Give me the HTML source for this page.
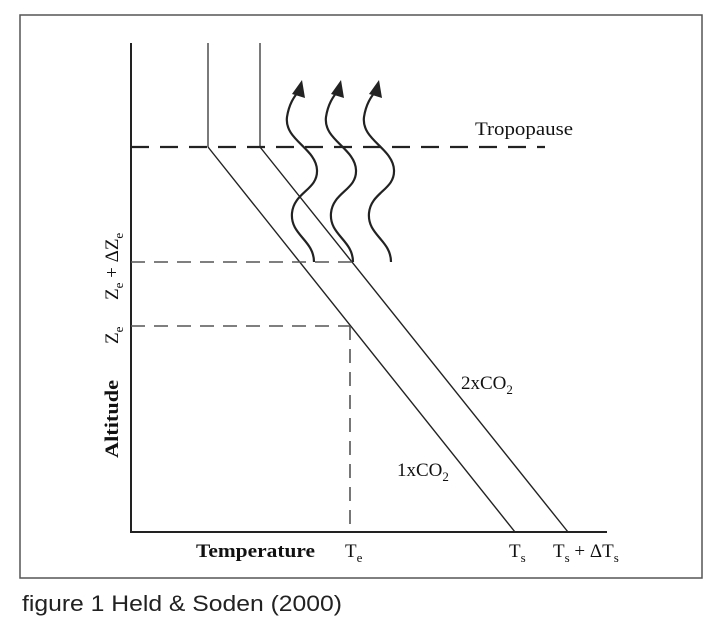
<!DOCTYPE html>
<html><head><meta charset="utf-8"><style>
html,body{margin:0;padding:0;background:#fff;width:720px;height:625px;overflow:hidden}
svg{position:absolute;left:0;top:0}
.s{font-family:"Liberation Serif",serif;fill:#111}
</style></head><body>
<svg width="720" height="625" viewBox="0 0 720 625">
<rect x="20" y="15" width="682" height="563" fill="#fff" stroke="#555" stroke-width="1.5"/>
<g stroke="#222" fill="none">
<line x1="131" y1="43" x2="131" y2="533" stroke-width="2"/>
<line x1="130" y1="532" x2="607" y2="532" stroke-width="2"/>
<line x1="208" y1="43" x2="208" y2="147" stroke-width="1.2"/>
<line x1="260" y1="43" x2="260" y2="147" stroke-width="1.2"/>
<line x1="208" y1="147" x2="515" y2="532" stroke-width="1.4"/>
<line x1="260" y1="147" x2="568" y2="532" stroke-width="1.4"/>
<line x1="131" y1="147" x2="545" y2="147" stroke-width="2.2" stroke-dasharray="18,11"/>
<line x1="131" y1="262" x2="353" y2="262" stroke-width="1.6" stroke-dasharray="14,9" stroke="#555"/>
<line x1="131" y1="326" x2="350" y2="326" stroke-width="1.6" stroke-dasharray="14,9" stroke="#555"/>
<line x1="350" y1="326" x2="350" y2="532" stroke-width="1.6" stroke-dasharray="14,9" stroke="#555"/>
</g>
<g id="w" stroke="#222" stroke-width="2.2" fill="none">
<path d="M314,262 C314,240 290,235 292,213 C294,192 318,190 317,170 C316,148 284,140 287,117 C289,104 294,97 298,92"/>
</g>
<polygon points="302,80 292,94 305,98" fill="#222"/>
<use href="#w" x="39"/><polygon points="341,80 331,94 344,98" fill="#222"/>
<use href="#w" x="77"/><polygon points="379,80 369,94 382,98" fill="#222"/>
<text class="s" x="475" y="135" font-size="19" textLength="98" lengthAdjust="spacingAndGlyphs">Tropopause</text>
<text class="s" x="461" y="389" font-size="19">2xCO<tspan font-size="13" dy="5">2</tspan></text>
<text class="s" x="397" y="476" font-size="19">1xCO<tspan font-size="13" dy="5">2</tspan></text>
<text class="s" x="196" y="557" font-size="19" font-weight="bold" textLength="119" lengthAdjust="spacingAndGlyphs">Temperature</text>
<text class="s" x="345" y="557" font-size="19">T<tspan font-size="13" dy="5">e</tspan></text>
<text class="s" x="509" y="557" font-size="19">T<tspan font-size="13" dy="5">s</tspan></text>
<text class="s" x="553" y="557" font-size="19">T<tspan font-size="13" dy="5">s</tspan><tspan dy="-5"> + ΔT</tspan><tspan font-size="13" dy="5">s</tspan></text>
<text class="s" font-size="19" font-weight="bold" transform="translate(118,458) rotate(-90)" textLength="78" lengthAdjust="spacingAndGlyphs">Altitude</text>
<text class="s" font-size="19" transform="translate(118,344) rotate(-90)">Z<tspan font-size="13" dy="5">e</tspan></text>
<text class="s" font-size="19" transform="translate(118,300) rotate(-90)">Z<tspan font-size="13" dy="5">e</tspan><tspan dy="-5"> + ΔZ</tspan><tspan font-size="13" dy="5">e</tspan></text>
<text x="22" y="611" font-family="Liberation Sans, sans-serif" font-size="22" fill="#222" textLength="320" lengthAdjust="spacingAndGlyphs">figure 1  Held &amp; Soden (2000)</text>
</svg>
</body></html>
